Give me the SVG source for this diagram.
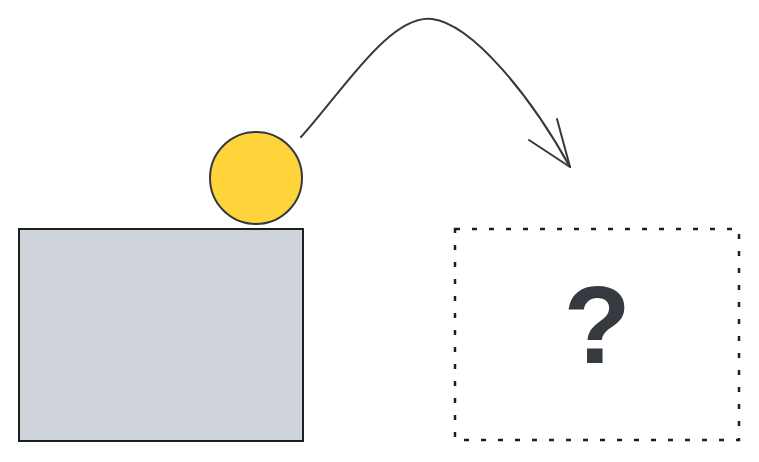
<svg xmlns="http://www.w3.org/2000/svg" width="759" height="462" viewBox="0 0 759 462">
<style>
.s{stroke:#343a40;stroke-linecap:round;stroke-linejoin:round}
</style>
<rect width="759" height="462" fill="#ffffff"/>
<g id="box">
<rect x="19" y="229" width="284" height="212" fill="#ced4da" stroke="#1e1e1e" stroke-width="2"/>
</g>
<g id="ball">
<circle class="s" cx="256" cy="178" r="46" fill="#ffd43b" stroke-width="2"/>
</g>
<g id="target">
<rect x="455" y="229" width="284" height="211" fill="none" stroke="#1e1e1e" stroke-width="2.5" stroke-dasharray="5 12"/>
<text x="597" y="363" font-family="'Liberation Sans', Arial, sans-serif" font-weight="bold" font-size="110" fill="#343a40" text-anchor="middle">?</text>
</g>
<g id="connectors">
<path class="s" d="M301,137 C342,92 390,14 432,19 C472,24 530,95 570,167" fill="none" stroke-width="2"/>
<path class="s" d="M529,140 L570,167 L557,119" fill="none" stroke-width="2"/>
</g>
</svg>
